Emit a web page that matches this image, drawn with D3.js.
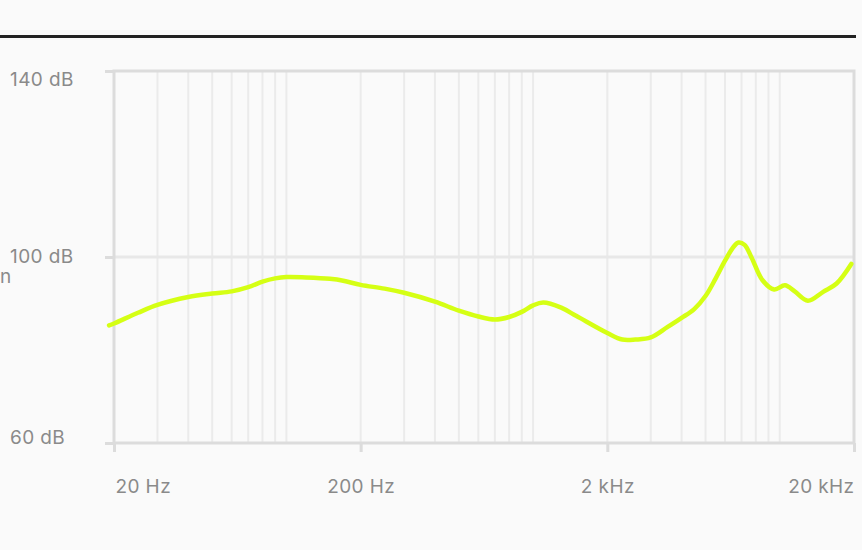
<!DOCTYPE html>
<html>
<head>
<meta charset="utf-8">
<script src="https://cdn.jsdelivr.net/npm/d3@7"></script>
<style>
  html, body { margin: 0; padding: 0; background: #fafafa; }
  svg { display: block; }
  text { font-family: Inter, "Noto Sans", sans-serif; }
</style>
</head>
<body>
<svg id="chart" width="862" height="550"></svg>
<script>
// Frequency response data (Hz, dB)
const freqs = [19.1, 20, 25, 30, 40, 50, 60, 70, 80, 90, 100, 120, 150, 170, 200, 250, 300, 400, 500, 600, 700, 800, 900, 1000, 1100, 1300, 1500, 2000, 2300, 2600, 3000, 3500, 4000, 4500, 5000, 5500, 6000, 6500, 6800, 7200, 7700, 8500, 9500, 10500, 11500, 13000, 15000, 17000, 19500];
const levels = [85.3, 85.7, 88.0, 89.7, 91.4, 92.15, 92.6, 93.5, 94.7, 95.4, 95.7, 95.6, 95.3, 94.9, 94.0, 93.2, 92.3, 90.4, 88.45, 87.2, 86.55, 87.1, 88.2, 89.6, 90.2, 89.1, 87.3, 83.65, 82.25, 82.25, 82.7, 84.9, 86.9, 88.8, 91.6, 95.4, 99.2, 102.2, 103.1, 102.6, 99.8, 95.05, 93.0, 93.9, 92.6, 90.6, 92.5, 94.3, 98.5];
const xTickValues = [20, 200, 2000, 20000];
const xTickLabels = ["20 Hz", "200 Hz", "2 kHz", "20 kHz"];
const yTickValues = [60, 100, 140];
const yTickLabels = ["60 dB", "100 dB", "140 dB"];

const svg = d3.select("#chart");
const W = 862, H = 550;
const mLeft = 114, mRight = 854, mTop = 71, mBottom = 443;
const FONT = "Inter, 'Noto Sans', sans-serif";
const FS = 19;

const x = d3.scaleLog().domain([20, 20000]).range([mLeft, mRight]);
const y = d3.scaleLinear().domain([60, 140]).range([mBottom, mTop]);

svg.append("rect").attr("width", W).attr("height", H).attr("fill", "#fafafa");

// top black rule
svg.append("line")
  .attr("x1", 0).attr("x2", 856).attr("y1", 36.5).attr("y2", 36.5)
  .attr("stroke", "#222").attr("stroke-width", 3);

// minor vertical grid
const gridTicks = x.ticks().filter(d => d > 20 && d < 20000);
svg.append("g").selectAll("line").data(gridTicks).join("line")
  .attr("x1", d => x(d)).attr("x2", d => x(d))
  .attr("y1", mTop).attr("y2", mBottom)
  .attr("stroke", "#ebebeb").attr("stroke-width", 2);

// horizontal grid
svg.append("g").selectAll("line").data(yTickValues.filter(d => d > 60 && d < 140)).join("line")
  .attr("x1", mLeft).attr("x2", mRight)
  .attr("y1", d => y(d)).attr("y2", d => y(d))
  .attr("stroke", "#e8e8e8").attr("stroke-width", 3);

// x axis
const xAxis = d3.axisBottom(x).tickValues(xTickValues).tickSize(9)
  .tickFormat((d, i) => xTickLabels[i]).tickPadding(27.5);
const gx = svg.append("g").attr("transform", `translate(0,${mBottom})`).call(xAxis);
gx.select(".domain").remove();
gx.selectAll(".tick line").attr("stroke", "#dcdcdc").attr("stroke-width", 3);
gx.selectAll(".tick text")
  .attr("fill", "#8a8a8a").attr("font-size", FS).attr("font-family", FONT)
  .attr("letter-spacing", "0.4px")
  .attr("text-anchor", (d, i) => i === 0 ? "start" : (i === xTickValues.length - 1 ? "end" : "middle"))
  .attr("dx", (d, i) => i === 0 ? 1 : 0);

// y axis
const yAxis = d3.axisLeft(y).tickValues(yTickValues).tickSize(9)
  .tickFormat((d, i) => yTickLabels[i]);
const gy = svg.append("g").attr("transform", `translate(${mLeft},0)`).call(yAxis);
gy.select(".domain").remove();
gy.selectAll(".tick line").attr("stroke", "#dcdcdc").attr("stroke-width", 3);
gy.selectAll(".tick text")
  .attr("fill", "#8a8a8a").attr("font-size", FS).attr("font-family", FONT)
  .attr("letter-spacing", "0.4px")
  .attr("text-anchor", "start")
  .attr("x", 10 - mLeft)
  .attr("dy", (d, i) => i === 0 ? "0.05em" : (i === yTickValues.length - 1 ? "0.74em" : "0.27em"));

// frame
svg.append("rect")
  .attr("x", mLeft).attr("y", mTop)
  .attr("width", mRight - mLeft).attr("height", mBottom - mTop)
  .attr("fill", "none").attr("stroke", "#dcdcdc").attr("stroke-width", 3);

// axis title remnant visible at left edge
svg.append("text")
  .attr("x", 0).attr("y", 283).attr("text-anchor", "start")
  .attr("fill", "#8a8a8a").attr("font-size", FS).attr("font-family", FONT).text("n");

// response curve
const data = freqs.map((f, i) => ({ f, v: levels[i] }));
const line = d3.line().x(d => x(d.f)).y(d => y(d.v)).curve(d3.curveCatmullRom.alpha(0.5));
svg.append("path").datum(data)
  .attr("d", line)
  .attr("fill", "none").attr("stroke", "#d5ff14").attr("stroke-width", 4.5)
  .attr("stroke-linecap", "round").attr("stroke-linejoin", "round");
</script>
</body>
</html>
